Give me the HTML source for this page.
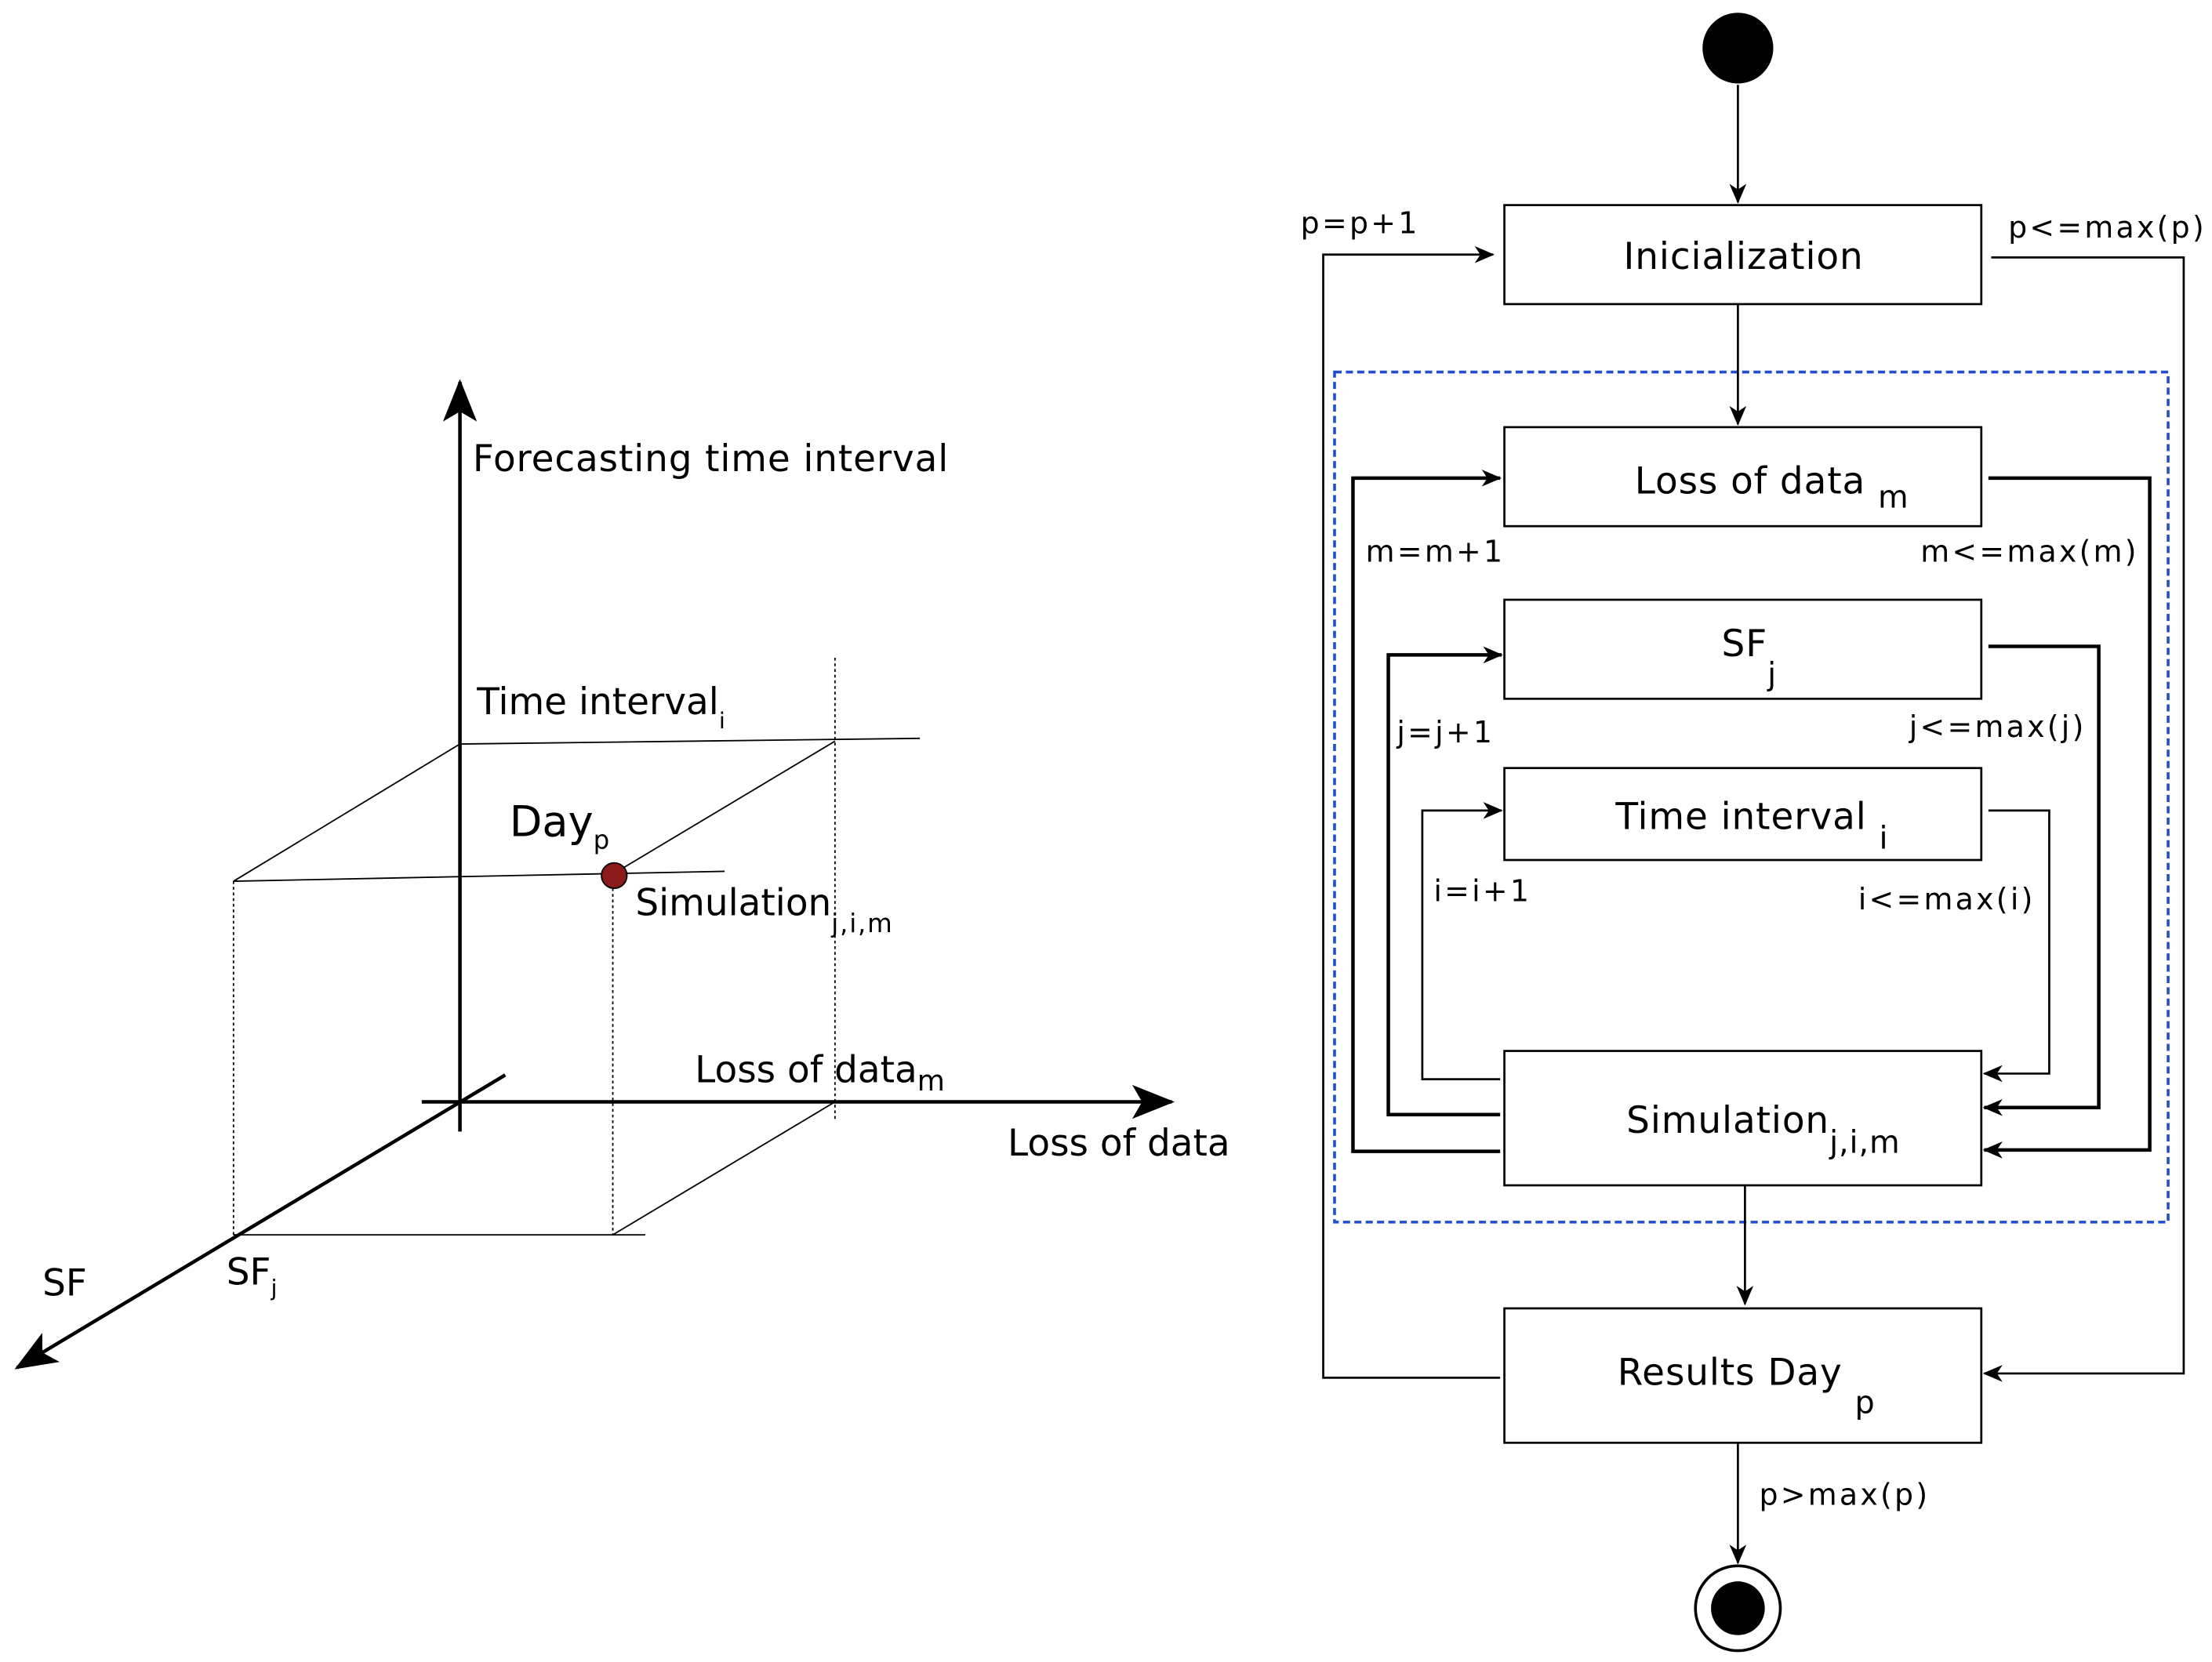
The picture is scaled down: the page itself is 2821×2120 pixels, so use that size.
<!DOCTYPE html>
<html><head><meta charset="utf-8"><style>html,body{margin:0;padding:0;background:#fff}svg{display:block}</style></head><body>
<svg width="2821" height="2120" viewBox="0 0 1563 1175" preserveAspectRatio="none" xmlns="http://www.w3.org/2000/svg" font-family="'DejaVu Sans','Liberation Sans',sans-serif">
<defs>
<marker id="a" markerWidth="14" markerHeight="12" refX="13" refY="6" orient="auto" markerUnits="userSpaceOnUse"><path d="M0,0 L14,6 L0,12 L4,6Z" fill="#000"/></marker>
<marker id="b" markerWidth="30" markerHeight="24" refX="28" refY="12" orient="auto" markerUnits="userSpaceOnUse"><path d="M0,0 L30,12 L0,24 L7,12Z" fill="#000"/></marker>
</defs>
<g stroke="#000" fill="none">
<line x1="325" y1="800" x2="325" y2="270" stroke-width="2.5" marker-end="url(#b)"/>
<line x1="298" y1="779" x2="828" y2="779" stroke-width="2.5" marker-end="url(#b)"/>
<line x1="357" y1="760" x2="12" y2="967" stroke-width="2.5" marker-end="url(#b)"/>
<g stroke-width="1">
<line x1="325" y1="526" x2="650" y2="522"/>
<line x1="325" y1="526" x2="165" y2="623"/>
<line x1="165" y1="623" x2="512" y2="616"/>
<line x1="165" y1="623" x2="165" y2="873" stroke-dasharray="2,2"/>
<line x1="165" y1="873" x2="456" y2="873"/>
<line x1="433" y1="873" x2="590" y2="779"/>
<line x1="590" y1="465" x2="590" y2="792" stroke-dasharray="2,2"/>
<line x1="590" y1="524" x2="433" y2="618"/>
<line x1="433" y1="620" x2="433" y2="873" stroke-dasharray="2,2"/>
</g>
</g>
<circle cx="434" cy="619" r="9" fill="#8b1a1a" stroke="#000" stroke-width="1"/>
<g font-size="26" fill="#000">
<text x="334" y="333" textLength="336">Forecasting time interval</text>
<text x="712" y="817">Loss of data</text>
<text x="30" y="916">SF</text>
<text x="160" y="908">SF<tspan font-size="16" dy="8">j</tspan></text>
<text x="337" y="505">Time interval<tspan font-size="16" dy="10">i</tspan></text>
<text x="360" y="591" font-size="30">Day<tspan font-size="18" dy="9">p</tspan></text>
<text x="449" y="647">Simulation<tspan font-size="18" dy="12" letter-spacing="1">j,i,m</tspan></text>
<text x="491" y="765">Loss of data<tspan font-size="20" dy="6">m</tspan></text>
</g>
<circle cx="1228" cy="34" r="25" fill="#000"/>
<circle cx="1228" cy="1137" r="30" fill="#fff" stroke="#000" stroke-width="2"/>
<circle cx="1228" cy="1137" r="19" fill="#000"/>
<rect x="943" y="263" width="589" height="601" fill="none" stroke="#1f4fd0" stroke-width="2" stroke-dasharray="5,3"/>
<g stroke="#000" stroke-width="1.5" fill="#fff">
<rect x="1063" y="145" width="337" height="70"/>
<rect x="1063" y="302" width="337" height="70"/>
<rect x="1063" y="424" width="337" height="70"/>
<rect x="1063" y="543" width="337" height="65"/>
<rect x="1063" y="743" width="337" height="95"/>
<rect x="1063" y="925" width="337" height="95"/>
</g>
<g stroke="#000" fill="none" stroke-width="1.5" marker-end="url(#a)">
<line x1="1228" y1="60" x2="1228" y2="143"/>
<line x1="1228" y1="215" x2="1228" y2="300"/>
<line x1="1233" y1="838" x2="1233" y2="922"/>
<line x1="1228" y1="1020" x2="1228" y2="1105"/>
<polyline points="1060,974 935,974 935,180 1055,180"/>
<polyline points="1407,182 1543,182 1543,971 1402,971"/>
<polyline points="1060,814 956,814 956,338 1060,338" stroke-width="2.5"/>
<polyline points="1405,338 1519,338 1519,813 1402,813" stroke-width="2.5"/>
<polyline points="1060,788 981,788 981,463 1061,463" stroke-width="2.5"/>
<polyline points="1405,457 1483,457 1483,783 1402,783" stroke-width="2.5"/>
<polyline points="1060,763 1005,763 1005,573 1061,573"/>
<polyline points="1405,573 1448,573 1448,759 1402,759"/>
</g>
<g font-size="26" fill="#000" text-anchor="middle" letter-spacing="0.5">
<text x="1232" y="190">Inicialization</text>
<text x="1252" y="349">Loss of data <tspan font-size="22" dy="10">m</tspan></text>
<text x="1236" y="464">SF<tspan font-size="22" dy="20">j</tspan></text>
<text x="1238" y="586">Time interval <tspan font-size="22" dy="14">i</tspan></text>
<text x="1246" y="801">Simulation<tspan font-size="22" dy="14">j,i,m</tspan></text>
<text x="1234" y="979">Results Day <tspan font-size="22" dy="20">p</tspan></text>
</g>
<g font-size="21" fill="#000" letter-spacing="1.8">
<text x="919" y="165">p=p+1</text>
<text x="1419" y="168">p&lt;=max(p)</text>
<text x="965" y="397">m=m+1</text>
<text x="1357" y="397">m&lt;=max(m)</text>
<text x="987" y="525">j=j+1</text>
<text x="1349" y="521">j&lt;=max(j)</text>
<text x="1013" y="637">i=i+1</text>
<text x="1313" y="643">i&lt;=max(i)</text>
<text x="1243" y="1064">p&gt;max(p)</text>
</g>
</svg>
</body></html>
